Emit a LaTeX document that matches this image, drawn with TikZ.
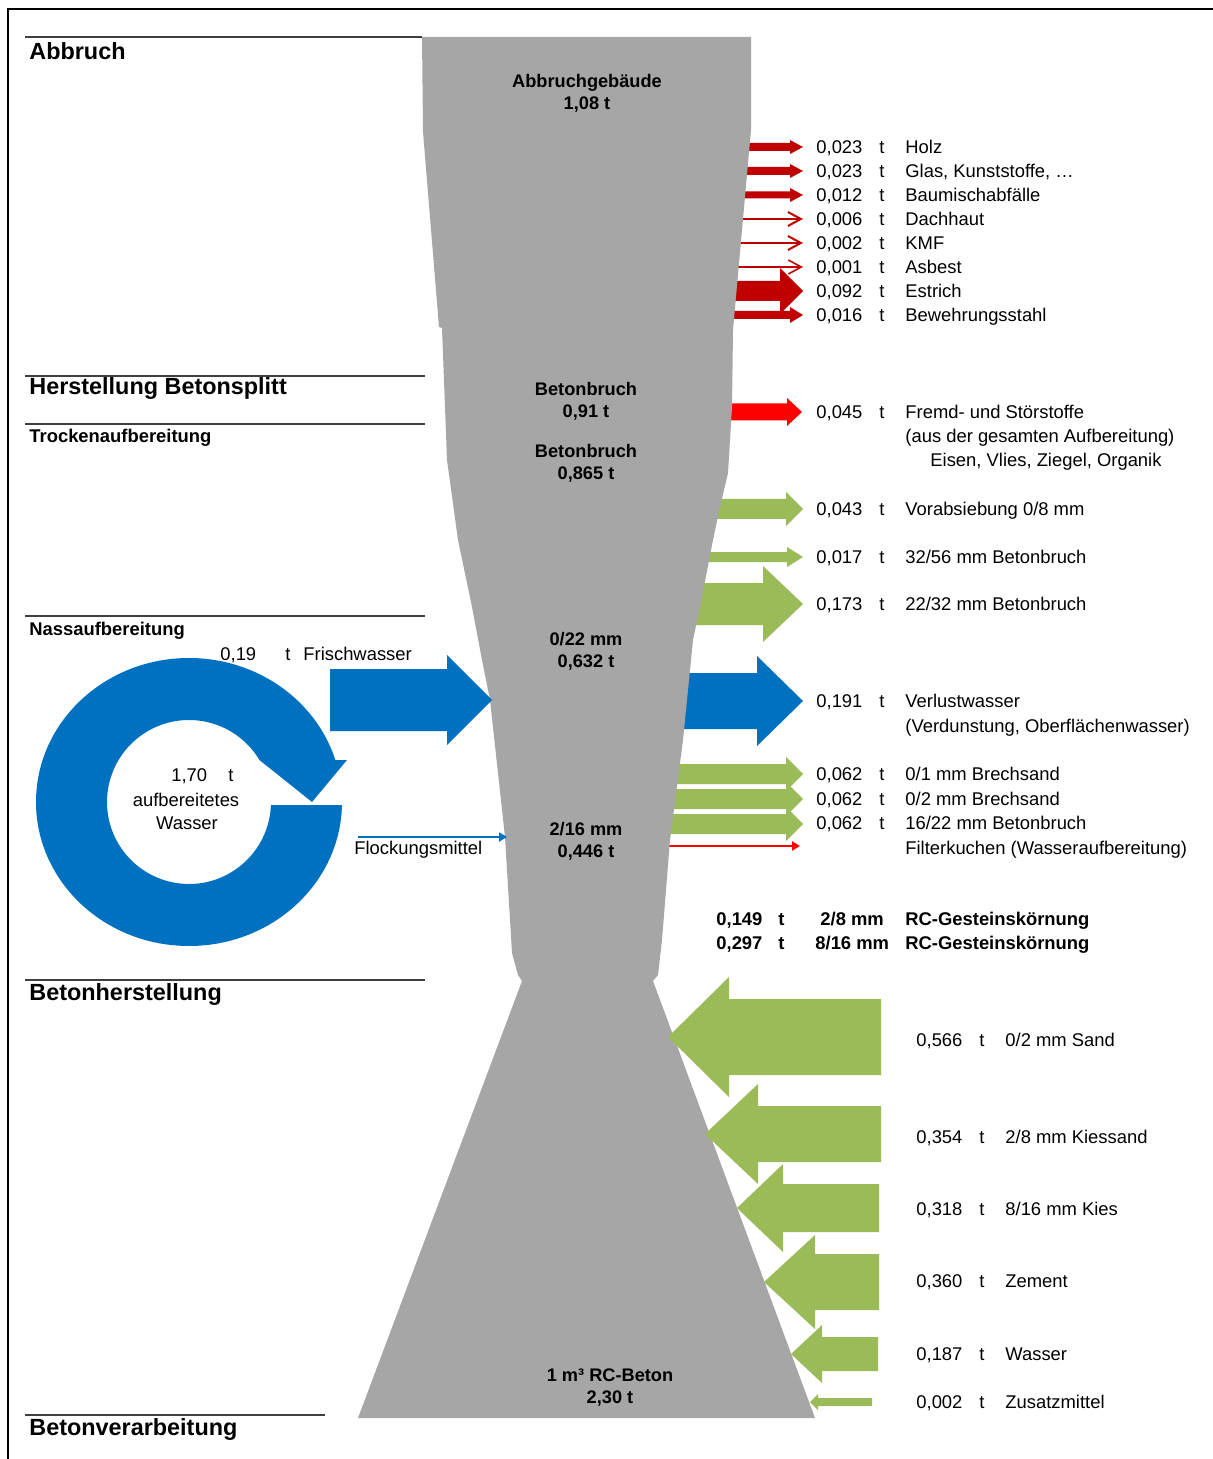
\documentclass[tikz,border=0pt]{standalone}
\usepackage{fontspec}
\setmainfont{Liberation Sans}
\usetikzlibrary{arrows.meta}

\definecolor{funnelgray}{HTML}{A6A6A6}
\definecolor{darkred}{HTML}{C00000}
\definecolor{brightred}{HTML}{FF0000}
\definecolor{recgreen}{HTML}{9BBB59}
\definecolor{waterblue}{HTML}{0070C0}
\definecolor{rulegray}{HTML}{3F3F3F}

\newcommand{\blockarrow}[7]{\fill[#1] (#2,#5-#6) -- (#3,#5-#6) -- (#3,#5-#7) -- (#4,#5) -- (#3,#5+#7) -- (#3,#5+#6) -- (#2,#5+#6) -- cycle;}

\tikzset{
  outred/.style={fill=darkred},
  foreign/.style={fill=brightred},
  recycled/.style={fill=recgreen},
  water/.style={fill=waterblue},
  thinout/.style={draw=darkred, line width=1pt, shorten >=6.5pt, -{Straight Barb[length=6.5pt,width=7pt]}},
  thinflow/.style={line width=1.4pt, -{Triangle[length=4pt,width=4.5pt]}},
  rule/.style={draw=rulegray, line width=1pt},
  stage/.style={font=\fontsize{11.7}{14}\selectfont\bfseries, anchor=west, inner sep=0pt, text height=8.4pt, text depth=0pt},
  substage/.style={font=\fontsize{9.2}{11}\selectfont\bfseries, anchor=west, inner sep=0pt, text height=6.6pt, text depth=0pt},
  mass/.style={font=\fontsize{9.1}{11}\selectfont\bfseries, align=center, inner sep=0pt},
  txt/.style={font=\fontsize{9.2}{11}\selectfont, anchor=west, inner sep=0pt, text height=6.6pt, text depth=0pt},
  btxt/.style={txt, font=\fontsize{9.2}{11}\selectfont\bfseries},
  ctxt/.style={font=\fontsize{9.2}{11}\selectfont, inner sep=0pt, text height=6.6pt, text depth=0pt}
}

\begin{document}
\begin{tikzpicture}[x=0.5pt,y=-0.5pt]
  \useasboundingbox (0,0) rectangle (1213,1459);
  \fill[white] (0,0) rectangle (1213,1459);
  \draw[line width=1.3pt] (8,1459) -- (8,9) -- (1213,9);

  \foreach \y/\xe in {37/422,376/425,424/425,616/425,980/425,1415/325}
    \draw[rule] (25,\y) -- (\xe,\y);
  \node[stage] (abbruch) at (29,51) {Abbruch};
  \node[stage] (splitt) at (29,386) {Herstellung Betonsplitt};
  \node[substage] (trocken) at (29,436) {Trockenaufbereitung};
  \node[substage] (nass) at (29,629) {Nassaufbereitung};
  \node[stage] (herst) at (29,992) {Betonherstellung};
  \node[stage] (verarb) at (29,1427) {Betonverarbeitung};

  \foreach \y/\val/\what [count=\i] in {147/{0,023}/Holz,171/{0,023}/{Glas, Kunststoffe, …},195/{0,012}/Baumischabfälle,219/{0,006}/Dachhaut,243/{0,002}/KMF,267/{0,001}/Asbest,291/{0,092}/Estrich,315/{0,016}/Bewehrungsstahl}{
    \node[txt] (v\i) at (816,\y) {\val};
    \node[txt] (t\i) at (879,\y) {t};
    \node[txt] (w\i) at (905,\y) {\what};
  }
  \foreach \y/\val/\what [count=\i] in {412/{0,045}/Fremd- und Störstoffe,509/{0,043}/{Vorabsiebung 0/8 mm},557/{0,017}/{32/56 mm Betonbruch},604/{0,173}/{22/32 mm Betonbruch},701/{0,191}/Verlustwasser,774/{0,062}/{0/1 mm Brechsand},799/{0,062}/{0/2 mm Brechsand},823/{0,062}/{16/22 mm Betonbruch}}{
    \node[txt] (sv\i) at (816,\y) {\val};
    \node[txt] (st\i) at (879,\y) {t};
    \node[txt] (sw\i) at (905,\y) {\what};
  }
  \node[txt] (aus) at (905,436) {(aus der gesamten Aufbereitung)};
  \node[txt] (eisen) at (930,460) {Eisen, Vlies, Ziegel, Organik};
  \node[txt] (verd) at (905,726) {(Verdunstung, Oberflächenwasser)};
  \node[txt] (filter) at (905,848) {Filterkuchen (Wasseraufbereitung)};
  \coordinate (filterend) at (800,846);

  \node[btxt] (rc1v) at (716,919) {0,149};
  \node[btxt] (rc1t) at (778,919) {t};
  \node[btxt] (rc1k) at (820,919) {2/8 mm};
  \node[btxt] (rc1w) at (905,919) {RC-Gesteinskörnung};
  \node[btxt] (rc2v) at (716,943) {0,297};
  \node[btxt] (rc2t) at (778,943) {t};
  \node[btxt] (rc2k) at (815,943) {8/16 mm};
  \node[btxt] (rc2w) at (905,943) {RC-Gesteinskörnung};

  \foreach \y/\val/\what [count=\i] in {1040/{0,566}/{0/2 mm Sand},1137/{0,354}/{2/8 mm Kiessand},1209/{0,318}/{8/16 mm Kies},1281/{0,360}/Zement,1354/{0,187}/Wasser,1402/{0,002}/Zusatzmittel}{
    \node[txt] (iv\i) at (916,\y) {\val};
    \node[txt] (it\i) at (979,\y) {t};
    \node[txt] (iw\i) at (1005,\y) {\what};
  }

  \blockarrow{outred}{720}{790}{803}{147}{4}{7}
  \blockarrow{outred}{720}{790}{803}{171}{4}{7}
  \blockarrow{outred}{720}{790}{803}{195}{3.5}{7}
  \draw[thinout] (720,219) -- (v4.west);
  \draw[thinout] (720,243) -- (v5.west);
  \draw[thinout, line width=0.8pt] (720,267) -- (v6.west);
  \blockarrow{outred}{720}{780}{803}{291}{10}{23}
  \blockarrow{outred}{720}{790}{803}{315}{4}{8}
  \blockarrow{foreign}{715}{787}{802}{412}{8.5}{14}
  \blockarrow{recycled}{700}{786}{803}{509}{10}{17}
  \blockarrow{recycled}{695}{787}{803}{557}{5}{10}
  \blockarrow{recycled}{680}{763}{803}{604}{21}{38}
  \blockarrow{water}{670}{757}{803}{701}{28}{45}
  \blockarrow{recycled}{660}{786}{803}{774}{10}{17}
  \blockarrow{recycled}{660}{786}{803}{799}{10}{17}
  \blockarrow{recycled}{660}{786}{803}{824}{10}{17}
  \draw[thinflow, brightred] (660,846) -- (filterend);

  \fill[funnelgray] (422,37) -- (751,37) -- (751,130) -- (733,330) -- (732,407) -- (728,473) -- (720,507) -- (713,540) -- (700,607) -- (693,640) -- (683,740) -- (670,840) -- (662,940) -- (658,975) -- (653,981) -- (815,1418) -- (358,1418) -- (522,981) -- (518,975) -- (512,953) -- (505,837) -- (490,700) -- (482,660) -- (472,607) -- (458,540) -- (447,460) -- (442,328) -- (439,327) -- (423,132) -- cycle;

  \blockarrow{recycled}{881}{729}{668}{1037}{38}{60}
  \blockarrow{recycled}{881}{758}{705}{1134}{28}{50}
  \blockarrow{recycled}{879}{783}{737}{1208}{24}{44}
  \blockarrow{recycled}{879}{815}{764}{1282}{28}{47}
  \blockarrow{recycled}{878}{822}{791}{1354}{17}{29}
  \blockarrow{recycled}{872}{818}{810}{1402}{4}{8}

  \node[mass] (gebaeude) at (587,93) {Abbruchgebäude\\1,08 t};
  \node[mass] (bruch1) at (586,401) {Betonbruch\\0,91 t};
  \node[mass] (bruch2) at (586,463) {Betonbruch\\0,865 t};
  \node[mass] (k022) at (586,651) {0/22 mm\\0,632 t};
  \node[mass] (k216) at (586,841) {2/16 mm\\0,446 t};
  \node[mass] (rcbeton) at (610,1388) {1 m³ RC-Beton\\2,30 t};

  \coordinate (rc) at (189,802);
  \fill[waterblue] ([shift={(1.2:153 and 144)}]rc) arc[start angle=1.2, end angle=343.04, x radius=153, y radius=144] -- (347,760) -- (312,802) -- ([shift={(329.2:82)}]rc) arc[start angle=329.2, end angle=2.1, radius=82] -- cycle;
  \blockarrow{water}{330}{447}{492}{700}{31}{45}
  \coordinate (flockin) at (507,837);
  \draw[thinflow, waterblue] (358,837) -- (flockin);

  \node[txt] (frischv) at (220,654) {0,19};
  \node[txt] (frischt) at (285,654) {t};
  \node[txt] (frisch) at (303,654) {Frischwasser};
  \node[txt] (kreisv) at (171,775) {1,70};
  \node[txt] (kreist) at (228,775) {t};
  \node[ctxt] (kreis1) at (186,800) {aufbereitetes};
  \node[ctxt] (kreis2) at (187,823) {Wasser};
  \node[txt] (flock) at (354,848) {Flockungsmittel};
\end{tikzpicture}
\end{document}
